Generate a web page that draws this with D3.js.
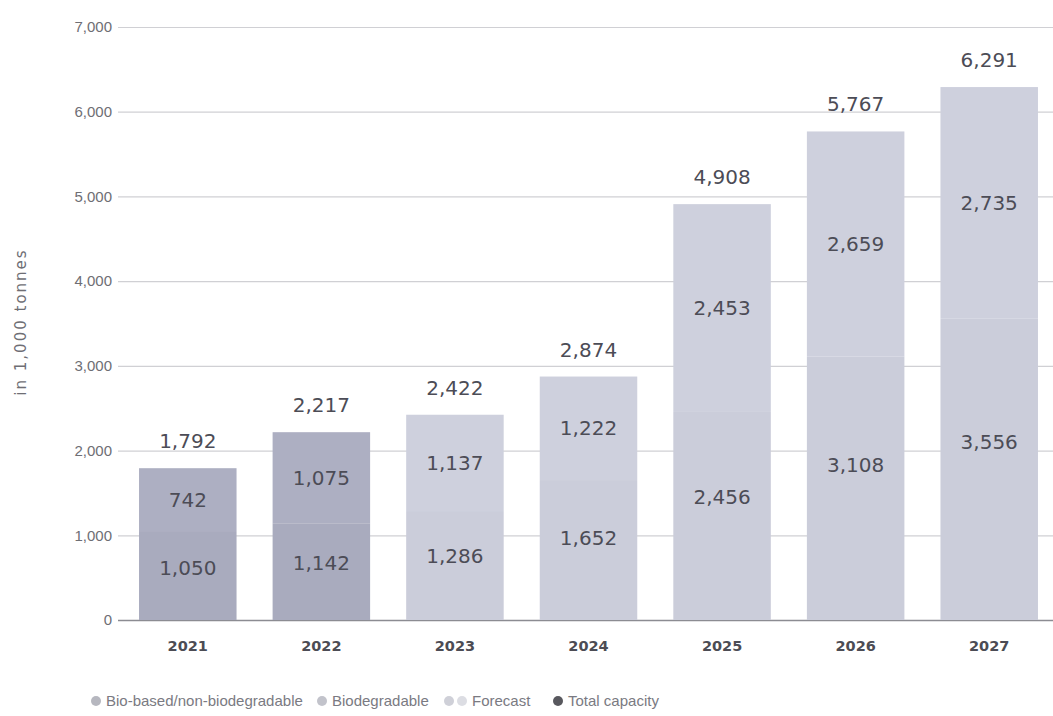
<!DOCTYPE html>
<html>
<head>
<meta charset="utf-8">
<script src="https://cdn.jsdelivr.net/npm/d3@7"></script>
<style>
  body { margin: 0; background: #fff; }
  svg { display: block; font-family: "DejaVu Sans", sans-serif; }
  .tick text { fill: #6e6e74; font-size: 15px; }
</style>
</head>
<body>
<svg width="1053" height="716"></svg>
<script>
var years = ['2021', '2022', '2023', '2024', '2025', '2026', '2027'];
var bioBased = [1050, 1142, 1286, 1652, 2456, 3108, 3556];
var biodegradable = [742, 1075, 1137, 1222, 2453, 2659, 2735];
var totals = [1792, 2217, 2422, 2874, 4908, 5767, 6291];
var forecast = [false, false, true, true, true, true, true];
var yTicks = [0, 1000, 2000, 3000, 4000, 5000, 6000, 7000];
var legendLabels = ['Bio-based/non-biodegradable', 'Biodegradable', 'Forecast', 'Total capacity'];

var svg = d3.select('svg');
var fmt = d3.format(',');

var xScale = d3.scaleBand()
  .domain(years)
  .range([119, 1058])
  .paddingInner(0.27)
  .paddingOuter(0.15);
var yScale = d3.scaleLinear()
  .domain([0, 7000])
  .range([620, 27]);

var colors = {
  bio: { actual: '#a9abbe', forecast: '#cbcdda' },
  degr: { actual: '#adafc2', forecast: '#ced0dd' }
};

// grid + y axis
var yAxisG = svg.append('g')
  .attr('transform', 'translate(118,0)');
yAxisG.call(d3.axisLeft(yScale).tickValues(yTicks).tickFormat(fmt).tickSize(0).tickPadding(6));
yAxisG.select('.domain').remove();
yAxisG.selectAll('.tick line')
  .attr('x2', 935)
  .attr('stroke', d => d === 0 ? '#8c8c92' : '#d0d0d4')
  .attr('stroke-width', d => d === 0 ? 1.5 : 1.2);

svg.append('text')
  .text('in 1,000 tonnes')
  .attr('transform', 'translate(26,322) rotate(-90)')
  .attr('text-anchor', 'middle')
  .attr('fill', '#6e6e74')
  .style('font-size', '15px')
  .style('letter-spacing', '2px');

var rows = years.map(function(y, i) {
  return { year: y, bio: bioBased[i], degr: biodegradable[i], total: totals[i], fc: forecast[i] };
});

var barG = svg.append('g');
var bars = barG.selectAll('.bar')
  .data(rows)
  .enter()
  .append('g')
  .attr('class', 'bar');

bars.append('rect')
  .attr('x', d => xScale(d.year))
  .attr('width', xScale.bandwidth())
  .attr('y', d => yScale(d.bio))
  .attr('height', d => yScale(0) - yScale(d.bio))
  .attr('fill', d => d.fc ? colors.bio.forecast : colors.bio.actual);

bars.append('rect')
  .attr('x', d => xScale(d.year))
  .attr('width', xScale.bandwidth())
  .attr('y', d => yScale(d.bio + d.degr))
  .attr('height', d => yScale(d.bio) - yScale(d.bio + d.degr))
  .attr('fill', d => d.fc ? colors.degr.forecast : colors.degr.actual);

var cx = d => xScale(d.year) + xScale.bandwidth() / 2;

bars.append('text')
  .text(d => fmt(d.bio))
  .attr('x', cx)
  .attr('y', d => yScale(d.bio * 0.59))
  .attr('dy', '0.36em');

bars.append('text')
  .text(d => fmt(d.degr))
  .attr('x', cx)
  .attr('y', d => yScale(d.bio + d.degr / 2))
  .attr('dy', '0.36em');

bars.append('text')
  .text(d => fmt(d.total))
  .attr('x', cx)
  .attr('y', d => yScale(d.total) - 20);

bars.selectAll('text')
  .attr('text-anchor', 'middle')
  .attr('fill', '#4c4c56')
  .style('font-size', '20px');

// x labels
svg.append('g')
  .selectAll('text')
  .data(years)
  .enter()
  .append('text')
  .text(d => d)
  .attr('x', d => xScale(d) + xScale.bandwidth() / 2)
  .attr('y', 651)
  .attr('text-anchor', 'middle')
  .attr('fill', '#4c4c54')
  .style('font-size', '14.5px')
  .style('font-weight', 'bold');

// legend
var legendG = svg.append('g').attr('transform', 'translate(0,706)');
var legendItems = [
  { label: legendLabels[0], dots: ['#b6b7bf'], x: 96 },
  { label: legendLabels[1], dots: ['#c2c3cb'], x: 322 },
  { label: legendLabels[2], dots: ['#cfd0d8', '#dcdde3'], x: 449 },
  { label: legendLabels[3], dots: ['#58585e'], x: 558 }
];
legendItems.forEach(function(item) {
  var g = legendG.append('g').attr('transform', 'translate(' + item.x + ',0)');
  item.dots.forEach(function(c, j) {
    g.append('circle')
      .attr('cx', j * 13)
      .attr('cy', -5)
      .attr('r', 5)
      .attr('fill', c);
  });
  g.append('text')
    .text(item.label)
    .attr('x', (item.dots.length - 1) * 13 + 10)
    .attr('y', 0)
    .attr('fill', '#7a7a82')
    .style('font-family', '"Liberation Sans", Arial, sans-serif')
    .style('font-size', '15px');
});
</script>
</body>
</html>
